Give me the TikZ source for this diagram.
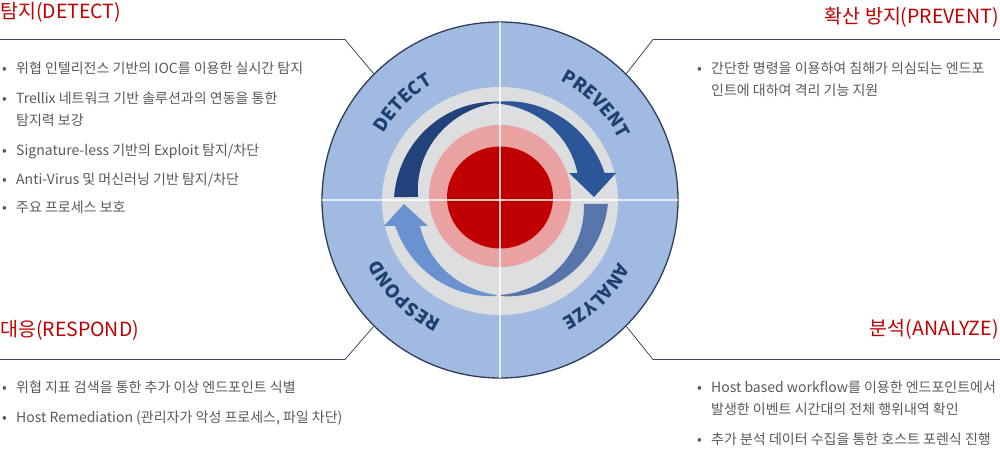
\documentclass[tikz,border=0pt]{standalone}
\usepackage{fontspec}
\setmainfont{Noto Sans CJK KR}
\usetikzlibrary{decorations.text}

\definecolor{ringblue}{HTML}{A0BAE2}
\definecolor{rimcol}{HTML}{2E3E56}
\definecolor{graycol}{HTML}{DDDEE0}
\definecolor{pinkcol}{HTML}{E9A1A2}
\definecolor{redcol}{HTML}{C00000}
\definecolor{detectcol}{HTML}{21427A}
\definecolor{preventcol}{HTML}{2B5698}
\definecolor{analyzecol}{HTML}{5775AA}
\definecolor{respondcol}{HTML}{6B92D0}
\definecolor{labcol}{HTML}{203F6E}
\definecolor{leadcol}{HTML}{3B4B5E}
\definecolor{txtgray}{HTML}{595959}

\newcommand\labfont{\fontsize{18}{18}\selectfont\bfseries}
\newcommand\bul[1]{\begin{tabular}[t]{@{}p{14pt}@{}l@{}}\textbullet & #1\end{tabular}}

\tikzset{
  title/.style={text=redcol, font=\fontsize{19.5}{19.5}\selectfont, inner sep=0pt},
  body/.style={text=txtgray, font=\fontsize{14}{22.5}\selectfont, inner sep=0pt, anchor=base west},
  leader/.style={draw=leadcol, line width=0.8pt},
  cross/.style={draw=white, opacity=0.75, line width=1.2pt, shorten <=1pt, shorten >=1pt},
  arclabel/.style={decorate, decoration={text along path, text align=center,
      text color=labcol, text={|\labfont|#1}}}
}

\begin{document}
\begin{tikzpicture}[x=1pt, y=-1pt]
    \useasboundingbox (0,0) rectangle (1000,448);

    % the wheel
    \coordinate (c) at (500,200);
    \node[circle, fill=ringblue, draw=rimcol, line width=1.3pt, minimum size=356pt, inner sep=0pt] (ring) at (c) {};
    \fill[graycol] (500,201) ellipse [x radius=118, y radius=114];
    \fill[pinkcol] (500,196) circle [radius=71];
    \fill[redcol] (500,197.5) ellipse [x radius=53, y radius=51];

    \begin{scope}[shift={(500,200)}]
        % detect
        \fill[detectcol] plot[domain=0:1, samples=40] ({181.6+90.4*\x}:{106-8*\x})
            -- plot[domain=1:0, samples=40] ({182.1+89.9*\x}:{82+16*\x}) -- cycle;
        % prevent
        \fill[preventcol] plot[domain=0:1, samples=40] ({266+79.5*\x}:{98+10*\x})
            -- (116,-27) -- (94,-3) -- (69,-27)
            -- plot[domain=1:0, samples=40] ({266+74.8*\x}:{97-15*\x}) -- cycle;
        % analyze
        \fill[analyzecol] plot[domain=0:1, samples=40] ({2.1+87.9*\x}:{108-12*\x})
            -- plot[domain=1:0, samples=40] ({2.7+87.3*\x}:{84+11*\x}) -- cycle;
        % respond
        \fill[respondcol] plot[domain=0:1, samples=40] ({92+74.1*\x}:{96+12*\x})
            -- (-116,26) -- (-96,4) -- (-72,26)
            -- plot[domain=1:0, samples=40] ({92+70*\x}:{95-11*\x}) -- cycle;
    \end{scope}

    \draw[cross] (ring.north) -- (ring.south);
    \draw[cross] (ring.west) -- (ring.east);

    \path[arclabel=DETECT] (c) ++(195:134) arc[start angle=195, end angle=255, radius=134];
    \path[arclabel=PREVENT] (c) ++(285:134) arc[start angle=285, end angle=345, radius=134];
    \path[arclabel=ANALYZE] (c) ++(15:134) arc[start angle=15, end angle=75, radius=134];
    \path[arclabel=RESPOND] (c) ++(105:134) arc[start angle=105, end angle=165, radius=134];

    % titles
    \node[title, anchor=base west] (tdetect) at (0,18) {탐지(DETECT)};
    \node[title, anchor=base east] (tprevent) at (999,23) {확산 방지(PREVENT)};
    \node[title, anchor=base west] (trespond) at (0,336) {대응(RESPOND)};
    \node[title, anchor=base east] (tanalyze) at (999,335) {분석(ANALYZE)};

    % leader lines
    \coordinate (dl0) at (0,39.5);   \coordinate (dl1) at (345,39.5);
    \coordinate (pl0) at (1000,39.5); \coordinate (pl1) at (653,39.5);
    \coordinate (rl0) at (0,359.5);  \coordinate (rl1) at (345,359.5);
    \coordinate (al0) at (1000,359.5); \coordinate (al1) at (653,359.5);
    \draw[leader] (dl0) -- (dl1) -- (ring.135);
    \draw[leader] (pl0) -- (pl1) -- (ring.45);
    \draw[leader] (rl0) -- (rl1) -- (ring.225);
    \draw[leader] (al0) -- (al1) -- (ring.315);

    % detect items
    \node[body] (d1) at (2,73) {\bul{위협 인텔리전스 기반의 IOC를 이용한 실시간 탐지}};
    \node[body] (d2) at (2,103) {\bul{Trellix 네트워크 기반 솔루션과의 연동을 통한\\ & 탐지력 보강}};
    \node[body] (d3) at (2,155) {\bul{Signature-less 기반의 Exploit 탐지/차단}};
    \node[body] (d4) at (2,184) {\bul{Anti-Virus 및 머신러닝 기반 탐지/차단}};
    \node[body] (d5) at (2,212) {\bul{주요 프로세스 보호}};

    % prevent items
    \node[body] (p1) at (697,73) {\bul{간단한 명령을 이용하여 침해가 의심되는 엔드포\\ & 인트에 대하여 격리 기능 지원}};

    % respond items
    \node[body] (r1) at (2,392) {\bul{위협 지표 검색을 통한 추가 이상 엔드포인트 식별}};
    \node[body] (r2) at (2,422) {\bul{Host Remediation (관리자가 악성 프로세스, 파일 차단)}};

    % analyze items
    \node[body] (a1) at (697,392) {\bul{Host based workflow를 이용한 엔드포인트에서\\ & 발생한 이벤트 시간대의 전체 행위내역 확인}};
    \node[body] (a2) at (697,444) {\bul{추가 분석 데이터 수집을 통한 호스트 포렌식 진행}};
\end{tikzpicture}
\end{document}
